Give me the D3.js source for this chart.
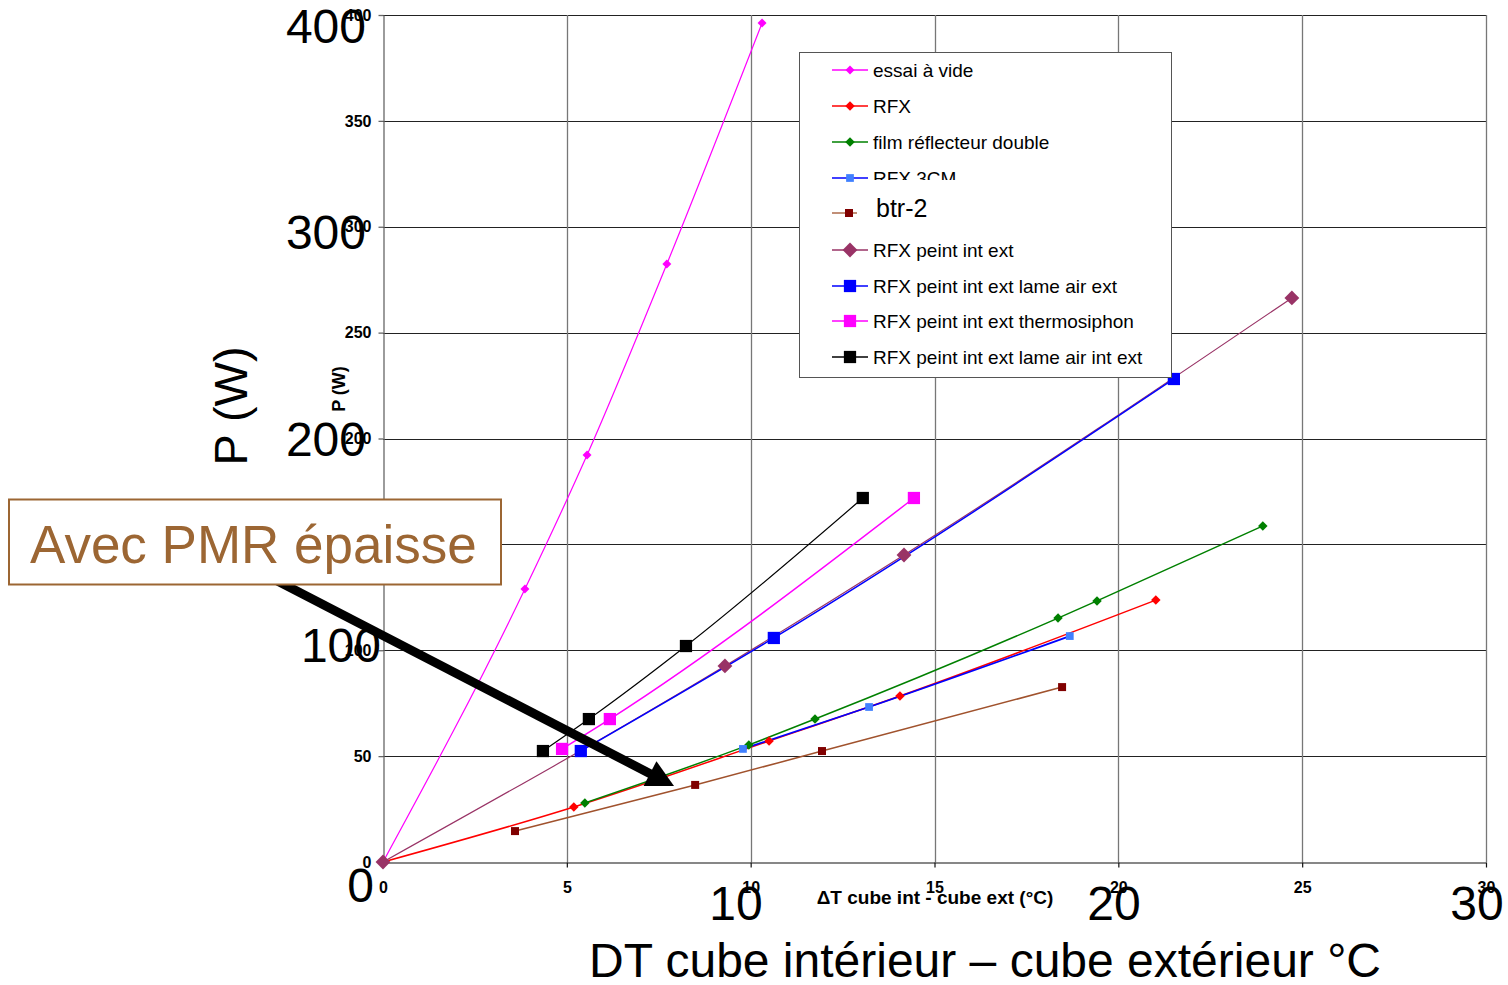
<!DOCTYPE html>
<html>
<head>
<meta charset="utf-8">
<script src="https://cdnjs.cloudflare.com/ajax/libs/d3/7.8.5/d3.min.js"></script>
<style>
    body { margin: 0; background: #fff; }
    svg { display: block; font-family: "Liberation Sans", Arial, sans-serif; }
</style>
</head>
<body>
<div id="chart"></div>
<script>
// data: [DT (°C), P (W)]
var essaiVide = [[0, 0], [3.86, 128.9], [5.55, 192.2], [7.72, 282.4], [10.31, 396.2]];
var rfx = [[0, 0], [5.19, 26.0], [10.50, 57.1], [14.06, 78.4], [21.02, 123.7]];
var filmDouble = [[5.49, 27.9], [9.95, 55.3], [11.75, 67.5], [18.36, 115.2], [19.42, 123.3], [23.93, 158.7]];
var rfx3cm = [[9.79, 53.4], [13.22, 73.2], [18.68, 106.7]];
var btr2 = [[3.59, 14.6], [8.49, 36.4], [11.94, 52.4], [18.47, 82.6]];
var peintIntExt = [[0, 0], [9.30, 92.6], [14.17, 145.0], [24.72, 266.4]];
var lameAirExt = [[5.38, 52.4], [10.63, 105.8], [21.51, 228.1]];
var thermosiphon = [[4.87, 53.4], [6.17, 67.5], [14.44, 171.9]];
var lameAirIntExt = [[4.35, 52.4], [5.60, 67.5], [8.24, 102.0], [13.05, 171.9]];

var seriesNames = ["essai à vide", "RFX", "film réflecteur double", "RFX 3CM", "btr-2",
    "RFX peint int ext", "RFX peint int ext lame air ext", "RFX peint int ext thermosiphon",
    "RFX peint int ext lame air int ext"];

var xTicks = [0, 5, 10, 15, 20, 25, 30];
var yTicks = [0, 50, 100, 150, 200, 250, 300, 350, 400];
var bigXTicks = [10, 20, 30];
var bigYTicks = [0, 100, 200, 300, 400];

var xTitle = "\u0394T cube int - cube ext (°C)";
var yTitle = "P (W)";
var bigXTitle = "DT cube intérieur \u2013 cube extérieur °C";
var bigYTitle = "P (W)";
var noteText = "Avec PMR épaisse";

// styles, one per series
var seriesData = [essaiVide, rfx, filmDouble, rfx3cm, btr2, peintIntExt, lameAirExt, thermosiphon, lameAirIntExt];
var lineColors = ["#ff00ff", "#ff0000", "#008000", "#0000ff", "#a0522d", "#993366", "#0000ff", "#ff00ff", "#000000"];
var markColors = ["#ff00ff", "#ff0000", "#008000", "#4080ff", "#800000", "#993366", "#0000ff", "#ff00ff", "#000000"];
var lineWidths = [1.2, 1.5, 1.5, 1.8, 1.5, 1.2, 1.5, 1.5, 1.2];
var markShape = ["diamond", "diamond", "diamond", "square", "square", "diamond", "square", "square", "square"];
var markSize = [40, 45, 45, 60, 64, 110, 150, 150, 150];

// 1) canvas
var svg = d3.select("#chart")
    .append("svg")
    .attr("width", 1508)
    .attr("height", 985);

// 2) scales
var xScale = d3.scaleLinear().domain([0, 30]).range([383, 1486]);
var yScale = d3.scaleLinear().domain([0, 400]).range([862, 15]);

// the big labels belong to an overlaid chart, not quite aligned
var bigX = d3.scaleLinear().domain([0, 10, 20, 30]).range([360, 736, 1114, 1477]);
var bigY = d3.scaleLinear().domain([0, 100, 400]).range([902, 662, 43]);
var bigYRight = d3.scaleLinear().domain([0, 100, 200, 400]).range([374, 381, 366, 366]);

// 3) grid
svg.append("g")
    .selectAll("line")
    .data(yTicks.slice(1))
    .enter()
    .append("line")
    .attr("x1", xScale(0))
    .attr("x2", xScale(30))
    .attr("y1", d => Math.round(yScale(d)) + 0.5)
    .attr("y2", d => Math.round(yScale(d)) + 0.5)
    .attr("stroke", "#222")
    .attr("stroke-width", 1);

svg.append("g")
    .selectAll("line")
    .data(xTicks.slice(1))
    .enter()
    .append("line")
    .attr("x1", d => Math.round(xScale(d)) + 0.5)
    .attr("x2", d => Math.round(xScale(d)) + 0.5)
    .attr("y1", yScale(400))
    .attr("y2", yScale(0))
    .attr("stroke", "#777")
    .attr("stroke-width", 1.3);

// 4) axes
var leftAxis = d3.axisLeft(yScale).tickValues(yTicks).tickSize(5).tickSizeOuter(0).tickPadding(7);
var bottomAxis = d3.axisBottom(xScale).tickValues(xTicks).tickSize(5).tickSizeOuter(0).tickPadding(14);

var gLeft = svg.append("g")
    .attr("transform", "translate(" + (Math.round(xScale(0)) + 0.5) + ",0)")
    .call(leftAxis);
gLeft.selectAll("path, line").attr("stroke", "#666").attr("stroke-width", 1.3);

var gBottom = svg.append("g")
    .attr("transform", "translate(0," + (Math.round(yScale(0)) + 0.5) + ")")
    .call(bottomAxis);
gBottom.selectAll("path, line").attr("stroke", "#111").attr("stroke-width", 1.2);

svg.selectAll(".tick text")
    .attr("font-family", "'Liberation Sans', Arial, sans-serif")
    .attr("font-size", 16)
    .attr("font-weight", "bold")
    .attr("fill", "#000");

// 5) series
var line = d3.line()
    .x(d => xScale(d[0]))
    .y(d => yScale(d[1]))
    .curve(d3.curveMonotoneX);

function markPath(i) {
    return d3.symbol().type(d3.symbolSquare).size(markSize[i])();
}

seriesData.forEach(function(data, i) {
    svg.append("path")
        .datum(data)
        .attr("d", line)
        .attr("fill", "none")
        .attr("stroke", lineColors[i])
        .attr("stroke-width", lineWidths[i]);
});

seriesData.forEach(function(data, i) {
    svg.append("g")
        .selectAll("path")
        .data(data)
        .enter()
        .append("path")
        .attr("d", markPath(i))
        .attr("transform", d => "translate(" + xScale(d[0]) + "," + yScale(d[1]) + ")" +
            (markShape[i] == "diamond" ? " rotate(45)" : ""))
        .attr("fill", markColors[i]);
});

// 6) legend
var legend = svg.append("g");
legend.append("rect")
    .attr("x", 799.5).attr("y", 52.5)
    .attr("width", 372).attr("height", 325)
    .attr("fill", "#fff")
    .attr("stroke", "#555")
    .attr("stroke-width", 1);

svg.append("clipPath")
    .attr("id", "clip3cm")
    .append("rect")
    .attr("x", 799).attr("y", 52).attr("width", 372).attr("height", 128);

var rowY = [70, 106, 142, 178, 213, 250, 286, 321, 357];

seriesNames.forEach(function(name, i) {
    var y = rowY[i];
    var short = (i == 4);
    legend.append("line")
        .attr("x1", 832).attr("x2", short ? 857 : 868)
        .attr("y1", y).attr("y2", y)
        .attr("stroke", lineColors[i])
        .attr("stroke-width", 1.3);
    legend.append("path")
        .attr("d", markPath(i))
        .attr("transform", "translate(" + (short ? 849 : 850) + "," + y + ")" +
            (markShape[i] == "diamond" ? " rotate(45)" : ""))
        .attr("fill", markColors[i]);
    var t = legend.append("text")
        .attr("x", short ? 876 : 873)
        .attr("y", short ? y + 4 : y + 7)
        .attr("font-size", short ? 25 : 19)
        .attr("fill", "#000")
        .text(name);
    if (i == 3) t.attr("clip-path", "url(#clip3cm)");
});

// 7) arrow + note
var a0 = [262, 573], a1 = [674, 786];
var dx = a1[0] - a0[0], dy = a1[1] - a0[1], len = Math.sqrt(dx * dx + dy * dy);
var ux = dx / len, uy = dy / len;
var head = 27, half = 14;
var base = [a1[0] - head * ux, a1[1] - head * uy];

svg.append("line")
    .attr("x1", a0[0]).attr("y1", a0[1])
    .attr("x2", base[0] + 4 * ux).attr("y2", base[1] + 4 * uy)
    .attr("stroke", "#000")
    .attr("stroke-width", 9);

svg.append("polygon")
    .attr("points", [a1, [base[0] - half * uy, base[1] + half * ux], [base[0] + half * uy, base[1] - half * ux]]
        .map(p => p.join(",")).join(" "))
    .attr("fill", "#000");

svg.append("rect")
    .attr("x", 9).attr("y", 499.5)
    .attr("width", 492).attr("height", 85)
    .attr("fill", "#fff")
    .attr("stroke", "#9c6633")
    .attr("stroke-width", 2);

svg.append("text")
    .attr("x", 30).attr("y", 563)
    .attr("font-size", 53)
    .attr("fill", "#9c6633")
    .text(noteText);

// 8) axis titles
svg.append("text")
    .attr("x", 935).attr("y", 904)
    .attr("text-anchor", "middle")
    .attr("font-size", 19)
    .attr("font-weight", "bold")
    .text(xTitle);

svg.append("text")
    .attr("transform", "translate(345,389) rotate(-90)")
    .attr("text-anchor", "middle")
    .attr("font-size", 18)
    .attr("font-weight", "bold")
    .text(yTitle);

// 9) big overlay labels
svg.append("g")
    .selectAll("text")
    .data(bigYTicks)
    .enter()
    .append("text")
    .attr("x", d => bigYRight(d))
    .attr("y", d => bigY(d))
    .attr("text-anchor", "end")
    .attr("font-size", 48)
    .text(d => d);

svg.append("g")
    .selectAll("text")
    .data(bigXTicks)
    .enter()
    .append("text")
    .attr("x", d => bigX(d))
    .attr("y", 920)
    .attr("text-anchor", "middle")
    .attr("font-size", 48)
    .text(d => d);

svg.append("text")
    .attr("x", 985).attr("y", 977)
    .attr("text-anchor", "middle")
    .attr("font-size", 48)
    .text(bigXTitle);

svg.append("text")
    .attr("transform", "translate(247,406) rotate(-90)")
    .attr("text-anchor", "middle")
    .attr("font-size", 47)
    .text(bigYTitle);
</script>
</body>
</html>
